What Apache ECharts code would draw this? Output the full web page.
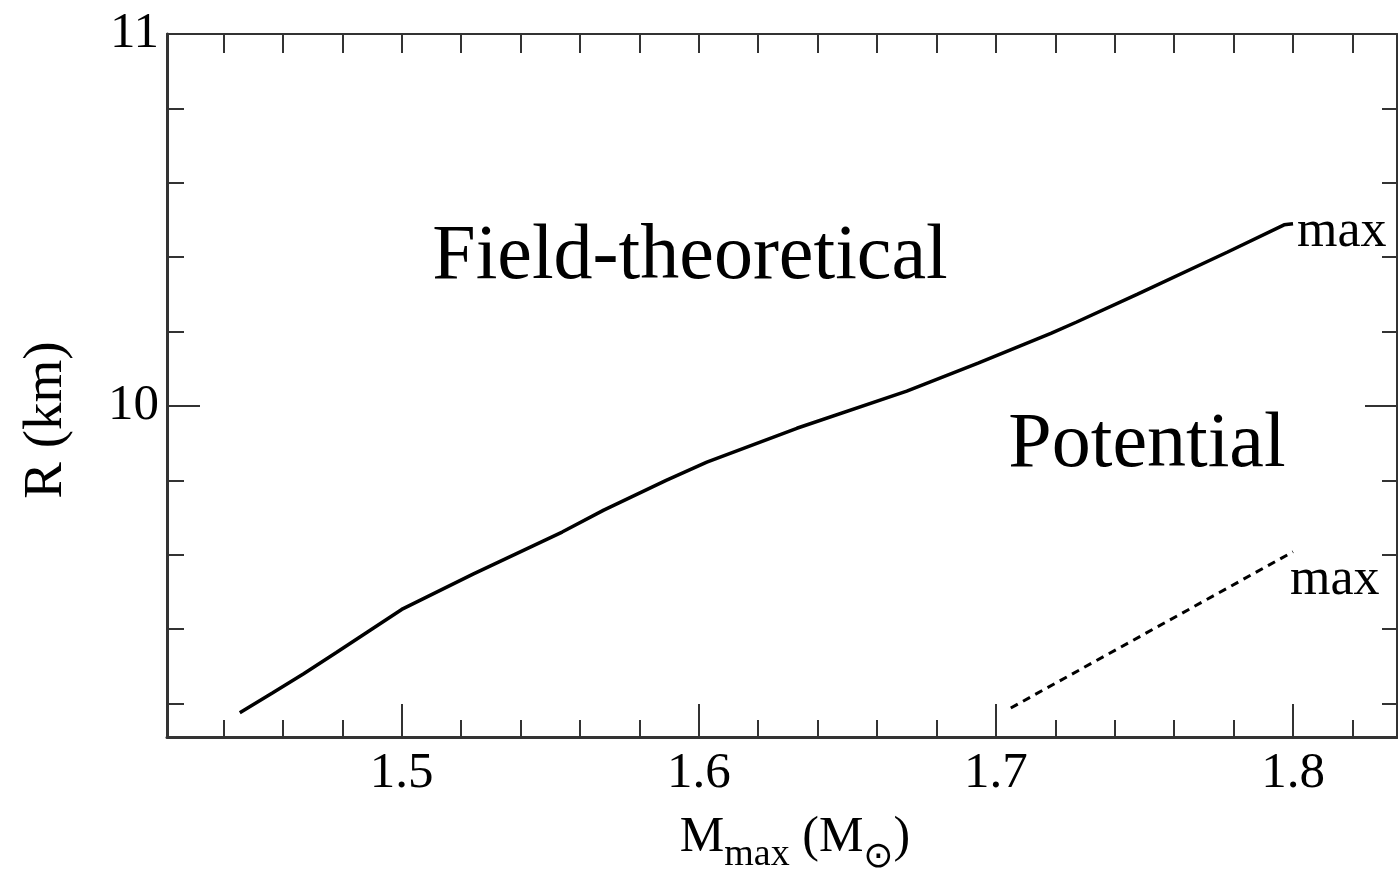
<!doctype html>
<html lang="en">
<head>
    <meta charset="UTF-8">
    <title>R vs Mmax</title>
    <style>
        html, body { margin: 0; padding: 0; background: #fff; }
    </style>
</head>
<body>
<div id="myChart" style="width: 1398px;height: 870px"></div>
<script src="https://cdn.jsdelivr.net/npm/echarts@6/dist/echarts.min.js"></script>
<script>
    // tick values
    var xMajor = [1.5, 1.6, 1.7, 1.8];
    var xMinor = [1.44, 1.46, 1.48, 1.52, 1.54, 1.56, 1.58, 1.62, 1.64, 1.66, 1.68, 1.72, 1.74, 1.76, 1.78, 1.82];
    var xTop = [1.44, 1.46, 1.48, 1.5, 1.52, 1.54, 1.56, 1.58, 1.6, 1.62, 1.64, 1.66, 1.68, 1.7, 1.72, 1.74, 1.76, 1.78, 1.8, 1.82];
    var yMajor = [10, 11];
    var yMinor = [9.2, 9.4, 9.6, 9.8, 10.2, 10.4, 10.6, 10.8];

    // field-theoretical curve (M, R)
    var fieldData = [
        [1.4455, 9.175], [1.4566, 9.229], [1.467, 9.28], [1.478, 9.337], [1.489, 9.395],
        [1.500, 9.453], [1.524, 9.548], [1.554, 9.661], [1.568, 9.72], [1.589, 9.80],
        [1.6027, 9.849], [1.633, 9.94], [1.670, 10.04], [1.694, 10.115], [1.7185, 10.195],
        [1.727, 10.225], [1.7475, 10.30], [1.778, 10.414], [1.797, 10.487], [1.800, 10.49]
    ];
    // potential curve
    var potentialData = [[1.705, 9.188], [1.8, 9.608]];

    var xMin = 1.421, xMax = 1.835, yMin = 9.11, yMax = 11;
    var serif = 'Liberation Serif';
    var axisColor = '#333';

    function xAxisBase(pos) {
        return {
            type: 'value', position: pos, min: xMin, max: xMax,
            splitLine: {show: false},
            axisLine: {show: false},
            axisLabel: {show: false},
            axisTick: {show: false}
        };
    }
    function yAxisBase(pos) {
        return {
            type: 'value', position: pos, min: yMin, max: yMax,
            splitLine: {show: false},
            axisLine: {show: false},
            axisLabel: {show: false},
            axisTick: {show: false}
        };
    }

    var xa0 = xAxisBase('bottom');
    xa0.axisLine = {show: true, onZero: false, lineStyle: {color: axisColor, width: 3}};
    xa0.axisTick = {show: true, inside: true, length: 33, customValues: xMajor, lineStyle: {color: axisColor, width: 2}};
    xa0.axisLabel = {show: true, customValues: xMajor, margin: 11, fontSize: 51, fontFamily: serif, color: '#000',
        formatter: function (v) { return v.toFixed(1); }};
    var xa1 = xAxisBase('bottom');
    xa1.axisTick = {show: true, inside: true, length: 17, customValues: xMinor, lineStyle: {color: axisColor, width: 2}};
    var xa2 = xAxisBase('top');
    xa2.axisLine = {show: true, onZero: false, lineStyle: {color: axisColor, width: 2}};
    xa2.axisTick = {show: true, inside: true, length: 19, customValues: xTop, lineStyle: {color: axisColor, width: 2}};

    var ya0 = yAxisBase('left');
    ya0.axisLine = {show: true, onZero: false, lineStyle: {color: axisColor, width: 3}};
    ya0.axisTick = {show: true, inside: true, length: 33, customValues: yMajor, lineStyle: {color: axisColor, width: 2}};
    ya0.axisLabel = {show: true, customValues: yMajor, margin: 8, fontSize: 51, fontFamily: serif, color: '#000',
        formatter: function (v) { return String(Math.round(v)); }};
    var ya1 = yAxisBase('left');
    ya1.axisTick = {show: true, inside: true, length: 17, customValues: yMinor, lineStyle: {color: axisColor, width: 2}};
    var ya2 = yAxisBase('right');
    ya2.axisLine = {show: true, onZero: false, lineStyle: {color: axisColor, width: 2}};
    ya2.axisTick = {show: true, inside: true, length: 15, customValues: yMinor, lineStyle: {color: axisColor, width: 2}};
    var ya3 = yAxisBase('right');
    ya3.axisTick = {show: true, inside: true, length: 32, customValues: [10], lineStyle: {color: axisColor, width: 2}};

    var myChart = echarts.init(document.getElementById('myChart'), null, {renderer: 'canvas'});

    var option = {
        backgroundColor: '#fff',
        animation: false,
        grid: {left: 167, right: 1, top: 34, bottom: 133, containLabel: false},
        xAxis: [xa0, xa1, xa2],
        yAxis: [ya0, ya1, ya2, ya3],
        graphic: [
            {type: 'text', x: 690, y: 258, style: {text: 'Field-theoretical', fontSize: 78, fontFamily: serif,
                fill: '#000', textAlign: 'center', textVerticalAlign: 'middle'}},
            {type: 'text', x: 1147, y: 446, style: {text: 'Potential', fontSize: 78, fontFamily: serif,
                fill: '#000', textAlign: 'center', textVerticalAlign: 'middle'}},
            {type: 'text', x: 1297, y: 232, style: {text: 'max', fontSize: 52, fontFamily: serif,
                fill: '#000', textAlign: 'left', textVerticalAlign: 'middle'}},
            {type: 'text', x: 1290, y: 580, style: {text: 'max', fontSize: 52, fontFamily: serif,
                fill: '#000', textAlign: 'left', textVerticalAlign: 'middle'}},
            {type: 'text', x: 47, y: 420, rotation: Math.PI / 2, style: {text: 'R (km)', fontSize: 55, fontFamily: serif,
                fill: '#000', textAlign: 'center', textVerticalAlign: 'middle'}},
            {type: 'text', x: 795, y: 838, style: {
                text: '{m|M}{s|max}{m| (M}{o|\u2299}{m|)}',
                textAlign: 'center', textVerticalAlign: 'middle',
                rich: {
                    m: {fontSize: 50, fontFamily: serif, fill: '#000', color: '#000'},
                    s: {fontSize: 38, fontFamily: serif, fill: '#000', color: '#000', padding: [34, 0, 0, 0]},
                    o: {fontSize: 36, fontFamily: 'DejaVu Sans', fill: '#000', color: '#000', padding: [40, 0, 0, 0]}
                }
            }}
        ],
        series: [
            {
                name: 'Field-theoretical', type: 'line', xAxisIndex: 0, yAxisIndex: 0,
                showSymbol: false, smooth: false,
                lineStyle: {color: '#000', width: 3.5},
                data: fieldData
            },
            {
                name: 'Potential', type: 'line', xAxisIndex: 0, yAxisIndex: 0,
                showSymbol: false, smooth: false,
                lineStyle: {color: '#000', width: 3, type: [8, 6]},
                data: potentialData
            }
        ]
    };
    myChart.setOption(option);
</script>
</body>
</html>
